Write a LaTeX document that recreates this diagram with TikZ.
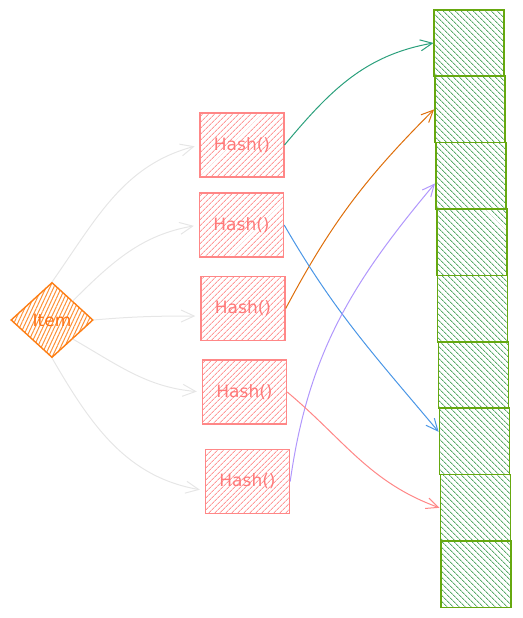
\documentclass[tikz,border=0pt]{standalone}
\usepackage{fontspec}
\setmainfont{DejaVu Sans}
\usetikzlibrary{shapes.geometric,arrows.meta,patterns.meta}

\definecolor{hashred}{RGB}{255,135,135}
\definecolor{itemorange}{RGB}{253,126,20}
\definecolor{cellgreen}{RGB}{102,168,15}
\definecolor{hatchgreen}{RGB}{50,150,70}
\definecolor{linkgray}{RGB}{230,230,230}
\definecolor{teal}{RGB}{43,160,124}
\definecolor{amber}{RGB}{222,110,10}
\definecolor{skyblue}{RGB}{74,150,230}
\definecolor{lilac}{RGB}{177,151,252}

\begin{document}
\begin{tikzpicture}[x=1pt,y=-1pt,
  hashbox/.style={draw=hashred,line width=1.4pt,
    pattern={Lines[angle=45,distance=4pt,line width=1pt]},pattern color=hashred!85,
    minimum width=84pt,minimum height=64pt,text=hashred!90!red,
    font=\fontsize{17}{17}\selectfont},
  bucket/.style={draw=cellgreen,line width=1.6pt,
    pattern={Lines[angle=-45,distance=4pt,line width=1pt]},pattern color=hatchgreen!80,
    minimum width=70pt,minimum height=66.4pt},
  link/.style={linkgray,line width=1pt,-{Straight Barb[length=13pt,width=12pt]},shorten >=5pt},
  ptr/.style={line width=1pt,-{Straight Barb[length=12pt,width=11pt]}}]

\useasboundingbox (0,0) rectangle (522,618);

% the item
\node[diamond,draw=itemorange,line width=1.4pt,
  pattern={Lines[angle=65,distance=3.5pt,line width=1pt]},pattern color=itemorange!85,
  minimum width=82pt,minimum height=75pt,inner sep=0pt,text=itemorange!90!red,
  font=\fontsize{17}{17}\selectfont] (item) at (52,320) {Item};

% hash functions
\node[hashbox] (hash1) at (242,145) {Hash()};
\node[hashbox] (hash2) at (241.5,225) {Hash()};
\node[hashbox] (hash3) at (243,308.5) {Hash()};
\node[hashbox] (hash4) at (244.5,392) {Hash()};
\node[hashbox] (hash5) at (247.5,481.5) {Hash()};

% bit array
\foreach \i in {0,...,8}
  {\node[bucket] (cell\i) at (469+0.9*\i,43+66.4*\i) {};}

% item to hash functions
\draw[link] (item.north) to[out=55, in=195] (hash1.west);
\draw[link] (item.north east) to[out=45, in=190] (hash2.west);
\draw[link] (item.east) to[out=5, in=180] (hash3.190);
\draw[link] (item.south east) to[out=-30, in=175] (hash4.west);
\draw[link] (item.south) to[out=-60, in=170] (hash5.192);

% hash functions to buckets
\draw[ptr,teal] (hash1.east) to[out=50, in=190] (cell0.west);
\draw[ptr,amber] (hash3.east) to[out=62, in=225] (cell1.west);
\draw[ptr,skyblue] (hash2.east) to[out=-60, in=130] (cell6.165);
\draw[ptr,lilac] (hash5.east) to[out=82, in=230] (cell2.192);
\draw[ptr,hashred] (hash4.east) to[out=-40, in=160] (cell7.west);
\end{tikzpicture}
\end{document}
